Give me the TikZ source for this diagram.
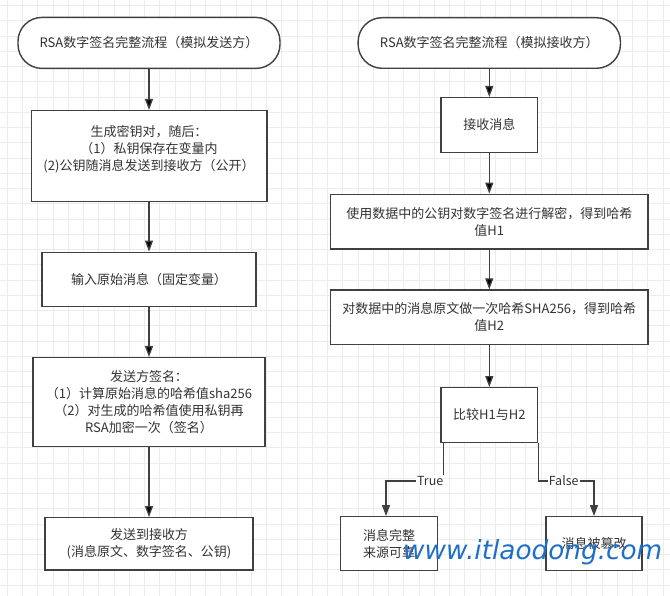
\documentclass[tikz,border=0pt]{standalone}
\usepackage{fontspec}
\usetikzlibrary{arrows.meta}
\newfontfamily\cjk{Noto Sans CJK SC}
\newfontfamily\wmfont{DejaVu Sans Oblique}
\definecolor{linegray}{RGB}{64,64,64}
\definecolor{textgray}{RGB}{51,51,51}
\definecolor{gridgray}{RGB}{236,236,236}
\definecolor{wmblue}{RGB}{30,111,200}

\begin{document}
\begin{tikzpicture}[x=1pt, y=-1pt, every node/.style={font=\cjk\fontsize{13}{17}\selectfont, text=textgray, align=center, inner sep=0pt}]
	\tikzstyle{terminal} = [rectangle, rounded corners=24pt, draw=linegray, line width=1.4pt, fill=white]
	\tikzstyle{stepbox} = [rectangle, draw=linegray, line width=1.4pt, fill=white]
	\tikzstyle{link} = [draw=linegray, line width=1.3pt, -{Triangle[length=11pt,width=8pt]}]
	\tikzstyle{branch} = [fill=white, inner sep=1pt, font=\cjk\fontsize{12.5}{15}\selectfont]
	\tikzstyle{wm} = [anchor=base west, text=wmblue, font=\wmfont\fontsize{26.3}{30}\selectfont]
	\fill[white] (0,0) rectangle (670,596);
	\useasboundingbox (0,0) rectangle (670,596);
	% grid
	\foreach \i in {0,...,43} \draw[gridgray, line width=1pt] (7.3+15.25*\i,0) -- (7.3+15.25*\i,596);
	\foreach \j in {0,...,38} \draw[gridgray, line width=1pt] (0,5.7+15.25*\j) -- (670,5.7+15.25*\j);
	
	% sender
	\node[terminal, minimum width=262pt, minimum height=51pt](s-0)at (149,42.9){RSA数字签名完整流程（模拟发送方）};
	\node[stepbox, minimum width=235.6pt, minimum height=90.6pt](s-1)at (149,156){生成密钥对，随后：\\（1）私钥保存在变量内\\(2)公钥随消息发送到接收方（公开）\\ \mbox{}};
	\node[stepbox, minimum width=214.3pt, minimum height=54.4pt](s-2)at (149,279.5){输入原始消息（固定变量）};
	\node[stepbox, minimum width=232.3pt, minimum height=89pt](s-3)at (149,402.2){发送方签名：\\（1）计算原始消息的哈希值sha256\\（2）对生成的哈希值使用私钥再\\RSA加密一次（签名）};
	\node[stepbox, minimum width=208.3pt, minimum height=52.3pt](s-4)at (149,543.9){发送到接收方\\(消息原文、数字签名、公钥)};
	
	% receiver
	\node[terminal, minimum width=262.3pt, minimum height=50.6pt](r-0)at (489.3,43){RSA数字签名完整流程（模拟接收方）};
	\node[stepbox, minimum width=96.6pt, minimum height=54.6pt](r-1)at (489.3,125){接收消息};
	\node[stepbox, minimum width=317.3pt, minimum height=54.7pt](r-2)at (489.3,221.7){使用数据中的公钥对数字签名进行解密，得到哈希\\值H1};
	\node[stepbox, minimum width=317.3pt, minimum height=54.3pt](r-3)at (489.3,317.2){对数据中的消息原文做一次哈希SHA256，得到哈希\\值H2};
	\node[stepbox, minimum width=96.6pt, minimum height=54.6pt](r-4)at (489.3,415){比较H1与H2};
	\node[stepbox, minimum width=96.6pt, minimum height=54pt](r-5)at (389,543.7){消息完整\\来源可靠};
	\node[stepbox, minimum width=96pt, minimum height=54pt](r-6)at (594,543.7){消息被篡改};
	
	\path[link] (s-0) edge (s-1)
	(s-1) edge (s-2)
	(s-2) edge (s-3)
	(s-3) edge (s-4);
	\path[link] (r-0) edge (r-1)
	(r-1) edge (r-2)
	(r-2) edge (r-3)
	(r-3) edge (r-4);
	\draw[link] ([xshift=3pt]r-4.south west) -- ++(0,38) -| node[branch, pos=0.114]{True} ([xshift=-3pt]r-5.north);
	\draw[link] (r-4.south east) -- ++(0,38) -| node[branch, pos=0.228]{False} (r-6.north);
	
	\node[wm](wm)at (403,559){www.itlaodong.com};
	
\end{tikzpicture}
\end{document}
